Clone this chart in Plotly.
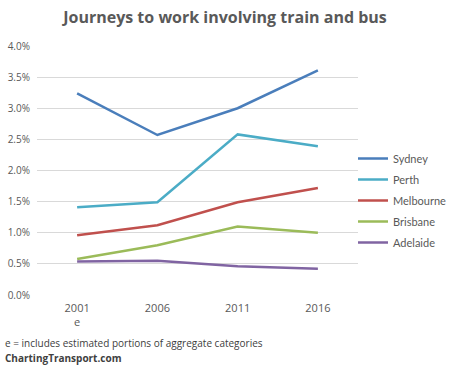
import plotly.graph_objects as go

years = ["2001", "2006", "2011", "2016"]
year_labels = ["2001<br>e", "2006", "2011", "2016"]
series_names = ["Sydney", "Perth", "Melbourne", "Brisbane", "Adelaide"]
sydney = [0.0324, 0.0257, 0.0300, 0.0361]
perth = [0.0141, 0.0149, 0.0258, 0.0239]
melbourne = [0.0096, 0.0112, 0.0149, 0.0172]
brisbane = [0.0058, 0.0080, 0.0110, 0.0100]
adelaide = [0.0054, 0.0055, 0.0046, 0.0042]
colors = ["#4A7EBB", "#4BACC6", "#C0504D", "#9BBB59", "#8064A2"]

values = [sydney, perth, melbourne, brisbane, adelaide]
fig = go.Figure()
for name, vals, c in zip(series_names, values, colors):
    fig.add_trace(go.Scatter(x=years, y=vals, name=name, legendgroup=name, mode="lines",
                             line=dict(color=c, width=2.5)))

font = "Open Sans, Liberation Sans, sans-serif"
fig.update_layout(
    width=450, height=367,
    margin=dict(l=37, r=92, t=46, b=72, autoexpand=False),
    paper_bgcolor="white", plot_bgcolor="white",
    title=dict(text="<b>Journeys to work involving train and bus</b>",
               x=0.5, xanchor="center", y=0.952, yanchor="middle",
               font=dict(family=font, size=16, color="#595959")),
    font=dict(family=font, size=10, color="#595959"),
    xaxis=dict(type="category", range=[-0.5, 3.5], tickvals=years, ticktext=year_labels,
               showgrid=False, showline=False, zeroline=False, ticks="",
               automargin=False, ticklabelstandoff=5,
               tickfont=dict(size=11, color="#595959")),
    yaxis=dict(range=[0, 0.04], dtick=0.005, tickformat=".1%", showgrid=True,
               gridcolor="#D9D9D9", gridwidth=1, zeroline=False, showline=False,
               ticks="", automargin=False, ticklabelstandoff=6,
               tickfont=dict(size=10, color="#595959")),
    legend=dict(xref="container", yref="container", x=353/450, y=1 - 200.5/367,
                xanchor="left", yanchor="middle", traceorder="grouped",
                font=dict(family="Lato, Open Sans, sans-serif", size=11, color="#595959"),
                tracegroupgap=2, itemwidth=30, bgcolor="rgba(0,0,0,0)", borderwidth=0),
    showlegend=True,
)
fig.add_annotation(text="e = includes estimated portions of aggregate categories",
                   xref="paper", yref="paper", x=-34/321, y=-48/249, xanchor="left",
                   yanchor="middle", showarrow=False,
                   font=dict(family=font, size=10, color="#404040"))
fig.add_annotation(text="<b>ChartingTransport.com</b>",
                   xref="paper", yref="paper", x=-34/321, y=-63/249, xanchor="left",
                   yanchor="middle", showarrow=False,
                   font=dict(family=font, size=10, color="#404040"))
fig.write_html("out.html", config={"displayModeBar": False},
               post_script="document.body.style.margin='0px';")
